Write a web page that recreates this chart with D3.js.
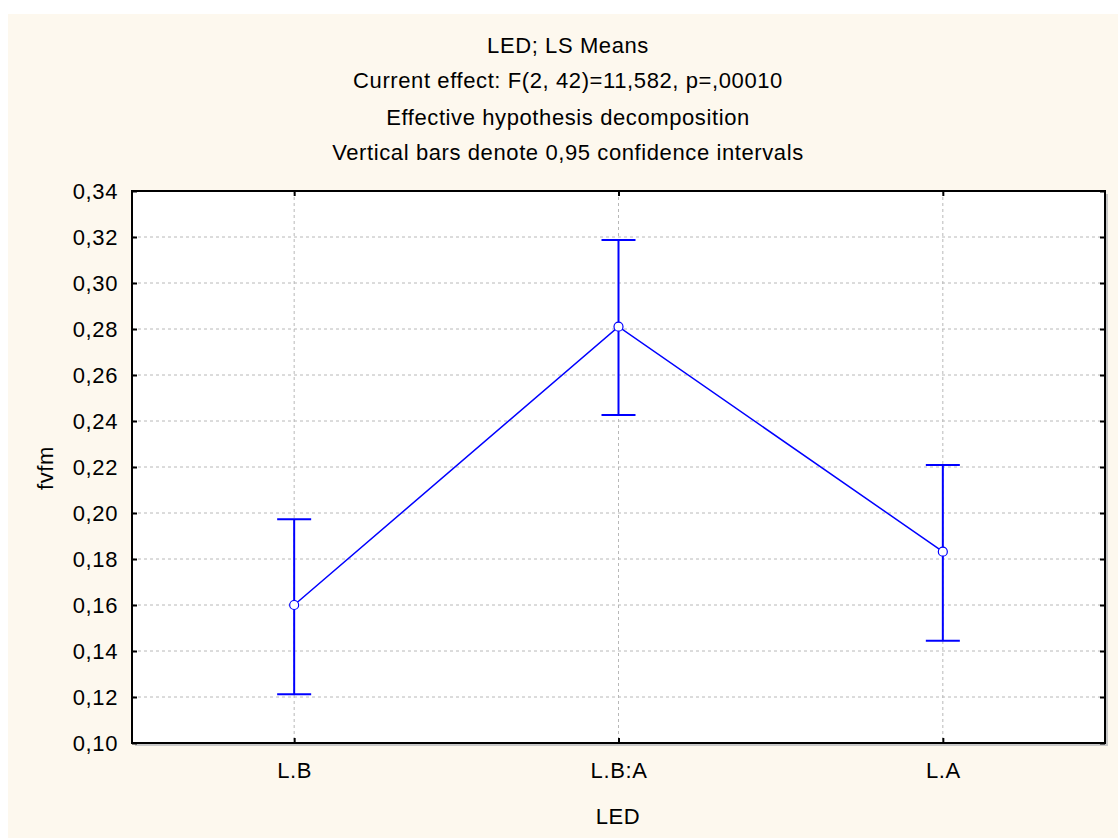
<!DOCTYPE html>
<html><head><meta charset="utf-8">
<script src="https://cdn.jsdelivr.net/npm/d3@7"></script>
<style>body{margin:0;background:#fff}svg{display:block}</style>
</head><body>
<svg id="c" width="1118" height="838"></svg>
<script>
const categories = ["L.B", "L.B:A", "L.A"];
const means = [0.160, 0.281, 0.1832];
const upper = [0.1973, 0.3187, 0.2209];
const lower = [0.1212, 0.2426, 0.1445];
const yTicks = [0.10,0.12,0.14,0.16,0.18,0.20,0.22,0.24,0.26,0.28,0.30,0.32,0.34];
const titleLines = ["LED; LS Means", "Current effect: F(2, 42)=11,582, p=,00010", "Effective hypothesis decomposition", "Vertical bars denote 0,95 confidence intervals"];
const xTitle = "LED", yTitle = "fvfm";

const svg = d3.select("#c");
const font = "'Liberation Sans', Arial, sans-serif";
const FS = 22, LS = "0.6px";
svg.append("rect").attr("x",8).attr("y",14).attr("width",1110).attr("height",824).attr("fill","#fdf8ee");

const L=132,R=1105,T=191,B=743;
const x = d3.scalePoint().domain(categories).range([L,R]).padding(0.5);
const y = d3.scaleLinear().domain([0.10,0.34]).range([B,T]);
const fmt = v => d3.format(".2f")(v).replace(".",",");

// shadow
svg.append("rect").attr("x",L+3).attr("y",T+3).attr("width",R-L).attr("height",B-T).attr("fill","#c8c8c8");
svg.append("rect").attr("x",L).attr("y",T).attr("width",R-L).attr("height",B-T).attr("fill","#fff");

// grid
svg.append("g").selectAll("line").data(yTicks.slice(1,-1)).join("line")
  .attr("x1",L).attr("x2",R).attr("y1",d=>y(d)).attr("y2",d=>y(d))
  .attr("stroke","#b8b8b8").attr("stroke-dasharray","3,3").attr("stroke-width",1);
svg.append("g").selectAll("line").data(categories).join("line")
  .attr("x1",d=>x(d)).attr("x2",d=>x(d)).attr("y1",T).attr("y2",B)
  .attr("stroke","#b8b8b8").attr("stroke-dasharray","3,3").attr("stroke-width",1);

// axes
const yAxis = d3.axisLeft(y).tickValues(yTicks).tickSize(-5).tickPadding(14).tickFormat(fmt);
const gy = svg.append("g").attr("transform",`translate(${L},0)`).call(yAxis);
gy.select(".domain").remove();
gy.selectAll("text").attr("font-family",font).attr("font-size",FS).attr("letter-spacing",LS).attr("fill","#000");
gy.selectAll("line").attr("stroke","#000").attr("stroke-width",2);
const gyr = svg.append("g").attr("transform",`translate(${R},0)`).call(d3.axisRight(y).tickValues(yTicks).tickSize(-5).tickFormat(""));
gyr.select(".domain").remove(); gyr.selectAll("line").attr("stroke","#000").attr("stroke-width",2);

const gx = svg.append("g").attr("transform",`translate(0,${B})`).call(d3.axisBottom(x).tickSize(-5).tickPadding(19));
gx.select(".domain").remove();
gx.selectAll("text").attr("font-family",font).attr("font-size",FS).attr("letter-spacing",LS).attr("fill","#000");
gx.selectAll("line").attr("stroke","#000").attr("stroke-width",2);
const gxt = svg.append("g").attr("transform",`translate(0,${T})`).call(d3.axisTop(x).tickSize(-5).tickFormat(""));
gxt.select(".domain").remove(); gxt.selectAll("line").attr("stroke","#000").attr("stroke-width",2);

svg.append("rect").attr("x",L).attr("y",T).attr("width",R-L).attr("height",B-T)
  .attr("fill","none").attr("stroke","#000").attr("stroke-width",2);

// error bars
const blue="#0000ff";
const eb = svg.append("g");
categories.forEach((c,i)=>{
  eb.append("line").attr("x1",x(c)).attr("x2",x(c)).attr("y1",y(upper[i])).attr("y2",y(lower[i])).attr("stroke",blue).attr("stroke-width",2);
  [upper[i],lower[i]].forEach(v=>eb.append("line").attr("x1",x(c)-17).attr("x2",x(c)+17).attr("y1",y(v)).attr("y2",y(v)).attr("stroke",blue).attr("stroke-width",2));
});
const line = d3.line().x((d,i)=>x(categories[i])).y(d=>y(d));
svg.append("path").datum(means).attr("d",line).attr("fill","none").attr("stroke",blue).attr("stroke-width",1.5);
svg.append("g").selectAll("circle").data(means).join("circle")
  .attr("cx",(d,i)=>x(categories[i])).attr("cy",d=>y(d)).attr("r",4.5)
  .attr("fill","#fff").attr("stroke",blue).attr("stroke-width",1.2);

// titles
const tys=[53,88,125,160];
titleLines.forEach((t,i)=>svg.append("text").attr("x",568).attr("y",tys[i]).attr("text-anchor","middle")
  .attr("font-family",font).attr("font-size",FS).attr("letter-spacing",LS).attr("fill","#000").text(t));
svg.append("text").attr("x",618).attr("y",824).attr("text-anchor","middle").attr("font-family",font).attr("font-size",FS).attr("letter-spacing",LS).text(xTitle);
svg.append("text").attr("transform","translate(53,468) rotate(-90)").attr("text-anchor","middle").attr("font-family",font).attr("font-size",FS).attr("letter-spacing",LS).text(yTitle);
</script>
</body></html>
